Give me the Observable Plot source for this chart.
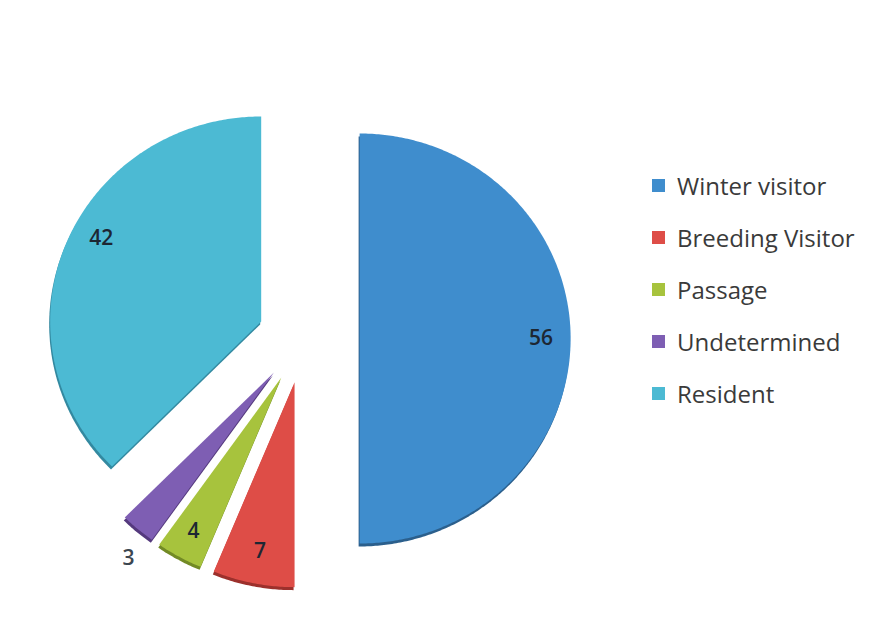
<!DOCTYPE html>
<html><head><meta charset="utf-8">
<script src="https://cdn.jsdelivr.net/npm/d3@7"></script>
<script src="https://cdn.jsdelivr.net/npm/@observablehq/plot@0.6"></script>
<style>
html,body{margin:0;padding:0;background:#fff;}
#wrap{position:relative;width:878px;height:639px;overflow:hidden;font-family:"Open Sans",sans-serif;background:#fff;}
#chart{position:absolute;left:0;top:0;}
#legend{position:absolute;left:652px;top:159px;}
.item{display:flex;align-items:center;height:52px;font-size:24px;color:#3a3a3a;white-space:nowrap;}
.sw{width:13px;height:13px;margin-right:12px;flex:none;}
</style></head><body>
<div id="wrap"><div id="chart"></div><div id="legend"></div></div>
<script>
// ---- data ----
const categories = ["Winter visitor", "Breeding Visitor", "Passage", "Undetermined", "Resident"];
const counts = [56, 7, 4, 3, 42];
const labels = ["56", "7", "4", "3", "42"];

// ---- styles / layout ----
const colors = ["#3f8dcd", "#de4d47", "#a7c33d", "#7e5eb3", "#4cbad3"];
const shadowColors = ["#2b5f8c", "#9c302c", "#728a25", "#54397d", "#3389a0"];
const W = 640, H = 639, CX = 303, CY = 338, RX = 211, RY = 205;
const explode = [0.266, 0.217, 0.217, 0.217, 0.217];
const labelR = [0.86, 0.84, 0.86, 1.14, 0.86];
const labelTurn = [0, 0, 0, -0.052, 0.1];

const pie = d3.pie().sort(null).value(d => d)(counts);
const slices = [];
const labelPts = [];
pie.forEach((p, i) => {
  const cat = categories[i];
  const mid = (p.startAngle + p.endAngle) / 2;
  const ox = Math.sin(mid) * explode[i], oy = Math.cos(mid) * explode[i];
  slices.push({cat, x: ox, y: oy});
  const n = Math.max(8, Math.ceil((p.endAngle - p.startAngle) / 0.01));
  for (let k = 0; k <= n; k++) {
    const a = p.startAngle + (p.endAngle - p.startAngle) * k / n;
    slices.push({cat, x: ox + Math.sin(a), y: oy + Math.cos(a)});
  }
  const la = mid + labelTurn[i];
  labelPts.push({cat, label: labels[i], x: ox + Math.sin(la) * labelR[i], y: oy + Math.cos(la) * labelR[i]});
});

const shadowMarks = categories.map((c, i) =>
  Plot.line(slices.filter(d => d.cat === c), {x: "x", y: "y", fill: shadowColors[i], stroke: "none", dx: -1, dy: 3})
);

const chart = Plot.plot({
  width: W, height: H,
  marginTop: 0, marginRight: 0, marginBottom: 0, marginLeft: 0,
  style: {fontFamily: "Open Sans, sans-serif", background: "transparent"},
  x: {domain: [-CX / RX, (W - CX) / RX], range: [0, W], axis: null},
  y: {domain: [(CY - H) / RY, CY / RY], range: [H, 0], axis: null},
  color: {domain: categories, range: colors},
  marks: [
    ...shadowMarks,
    Plot.line(slices, {x: "x", y: "y", z: "cat", fill: "cat", stroke: "none"}),
    Plot.text(labelPts, {x: "x", y: "y", text: "label", fontSize: 21, fontWeight: 600, fill: d => d.label === "3" ? "#3c4650" : "#1d2733"})
  ]
});
document.getElementById("chart").appendChild(chart);

const legend = document.getElementById("legend");
categories.forEach((c, i) => {
  const item = document.createElement("div");
  item.className = "item";
  const sw = document.createElement("span");
  sw.className = "sw";
  sw.style.background = colors[i];
  const t = document.createElement("span");
  t.textContent = c;
  item.appendChild(sw); item.appendChild(t);
  legend.appendChild(item);
});
</script>
</body></html>
